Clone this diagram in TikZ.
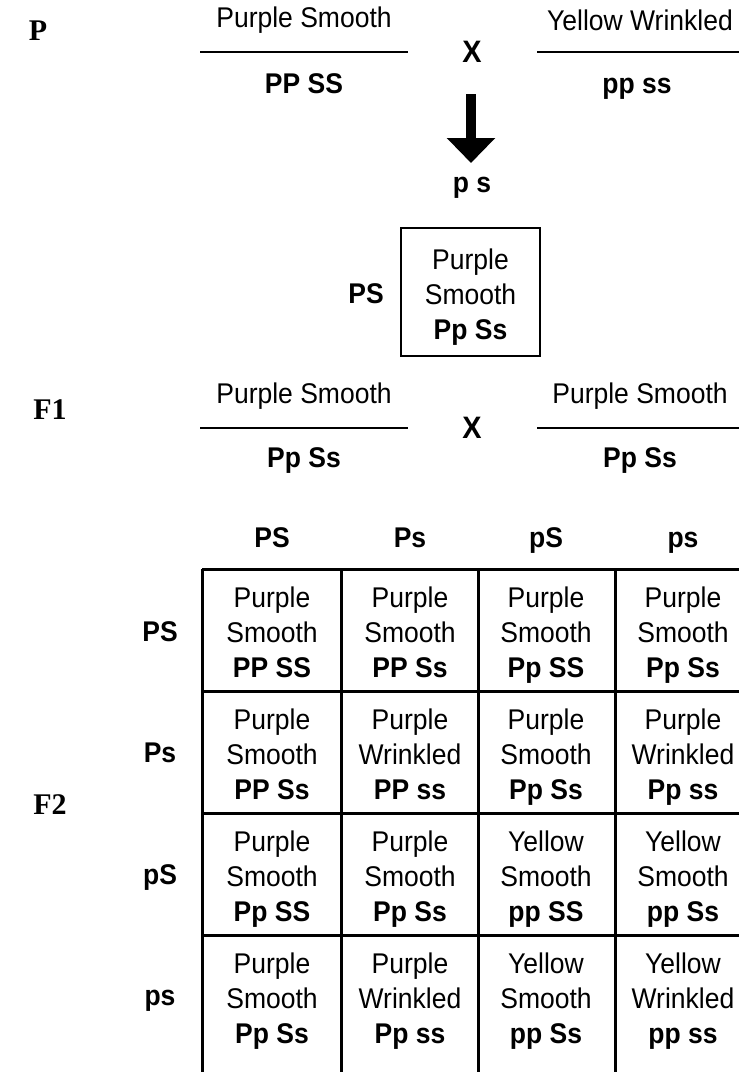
\documentclass[tikz,border=0pt]{standalone}
\usepackage{fontspec}
\setmainfont{Liberation Sans}[FakeStretch=0.93]
\newfontfamily\serifgen{Liberation Serif}
\usetikzlibrary{arrows.meta}
\tikzset{
  txt/.style={inner sep=0pt, align=center, font=\fontsize{28.5}{35}\selectfont},
  gen/.style={inner sep=0pt, text height=21pt, text depth=6pt, font=\fontsize{28.5}{35}\selectfont\bfseries},
  gentag/.style={inner sep=0pt, font=\serifgen\fontsize{30}{30}\selectfont\bfseries},
  crossmark/.style={inner sep=0pt, font=\fontsize{31}{31}\selectfont\bfseries},
  rule/.style={line width=1.3pt},
  gridline/.style={line width=3pt},
  cell/.style={inner sep=0pt, anchor=north, align=center, font=\fontsize{28.5}{35}\selectfont},
}
\begin{document}
\begin{tikzpicture}[x=1pt,y=-1pt]
\useasboundingbox (0,0) rectangle (739,1072);
% generation tags
\node[gentag] (tP) at (38,31) {P};
\node[gentag] (tF1) at (50,410) {F1};
\node[gentag] (tF2) at (50,805) {F2};
% P cross
\node[txt] (p1) at (304,20) {Purple Smooth};
\draw[rule] (200,52) -- (408,52);
\node[gen] (p1g) at (304,86) {PP SS};
\node[crossmark] (x1) at (472,52) {X};
\node[txt] (p2) at (640,20) {Yellow Wrinkled};
\draw[rule] (537,52) -- (739,52);
\node[gen] (p2g) at (637,86) {pp ss};
% arrow
\coordinate (a1) at (471,94);
\coordinate (a2) at (471,163);
\draw[line width=10pt, -{Triangle[width=47pt,length=25pt]}] (a1) -- (a2);
\node[gen] (gam) at (472,185) {p s};
% F1 box
\node[draw, line width=2.5pt, minimum width=139pt, minimum height=128pt, inner sep=0pt] (box) at (470.5,292) {};
\node[cell] (boxt) at (470.5,249) {Purple\\Smooth\\\textbf{Pp Ss}};
\node[gen] (boxg) at (366,296) {PS};
% F1 cross
\node[txt] (f1) at (304,396) {Purple Smooth};
\draw[rule] (200,428) -- (408,428);
\node[gen] (f1g) at (304,460) {Pp Ss};
\node[crossmark] (x2) at (472,428) {X};
\node[txt] (f2) at (640,396) {Purple Smooth};
\draw[rule] (537,428) -- (739,428);
\node[gen] (f2g) at (640,460) {Pp Ss};
% column headers
\node[gen] (h1) at (272,540) {PS};
\node[gen] (h2) at (410,540) {Ps};
\node[gen] (h3) at (546,540) {pS};
\node[gen] (h4) at (683,540) {ps};
% row headers
\node[gen] (r1) at (160,634) {PS};
\node[gen] (r2) at (160,755) {Ps};
\node[gen] (r3) at (160,877) {pS};
\node[gen] (r4) at (160,998) {ps};
% grid
\begin{scope}
\clip (0,0) rectangle (739,1072);
\foreach \x in {202,341,478,615,752} \draw[gridline] (\x,569) -- (\x,1080);
\foreach \y in {569,691,813,935} \draw[gridline] (202,\y) -- (752,\y);
\end{scope}
% cells
\node[cell] (c11) at (272,587) {Purple\\Smooth\\\textbf{PP SS}};
\node[cell] (c12) at (410,587) {Purple\\Smooth\\\textbf{PP Ss}};
\node[cell] (c13) at (546,587) {Purple\\Smooth\\\textbf{Pp SS}};
\node[cell] (c14) at (683,587) {Purple\\Smooth\\\textbf{Pp Ss}};
\node[cell] (c21) at (272,709) {Purple\\Smooth\\\textbf{PP Ss}};
\node[cell] (c22) at (410,709) {Purple\\Wrinkled\\\textbf{PP ss}};
\node[cell] (c23) at (546,709) {Purple\\Smooth\\\textbf{Pp Ss}};
\node[cell] (c24) at (683,709) {Purple\\Wrinkled\\\textbf{Pp ss}};
\node[cell] (c31) at (272,831) {Purple\\Smooth\\\textbf{Pp SS}};
\node[cell] (c32) at (410,831) {Purple\\Smooth\\\textbf{Pp Ss}};
\node[cell] (c33) at (546,831) {Yellow\\Smooth\\\textbf{pp SS}};
\node[cell] (c34) at (683,831) {Yellow\\Smooth\\\textbf{pp Ss}};
\node[cell] (c41) at (272,953) {Purple\\Smooth\\\textbf{Pp Ss}};
\node[cell] (c42) at (410,953) {Purple\\Wrinkled\\\textbf{Pp ss}};
\node[cell] (c43) at (546,953) {Yellow\\Smooth\\\textbf{pp Ss}};
\node[cell] (c44) at (683,953) {Yellow\\Wrinkled\\\textbf{pp ss}};
\end{tikzpicture}
\end{document}
